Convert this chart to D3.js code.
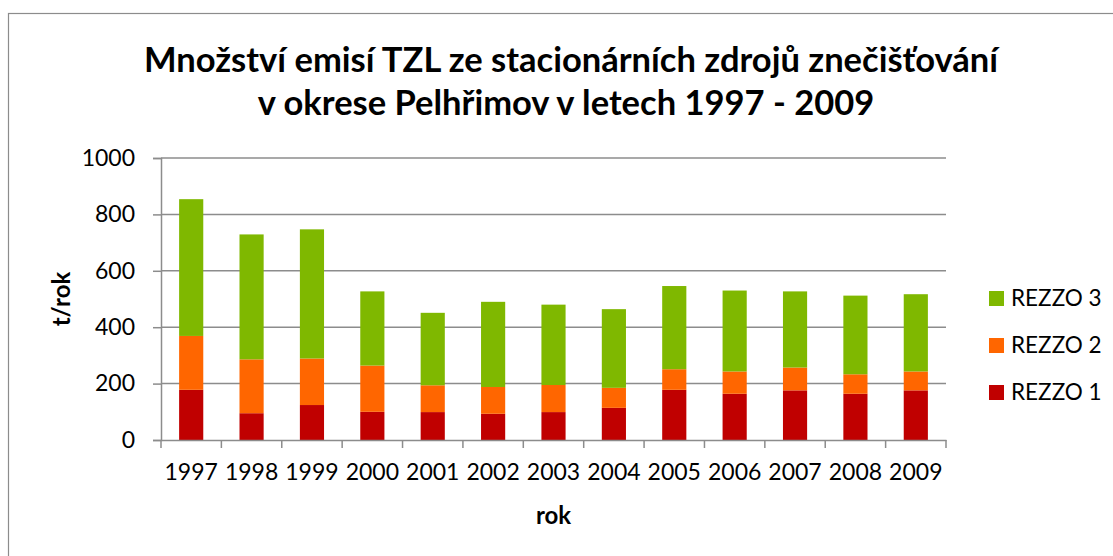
<!DOCTYPE html>
<html>
<head>
<meta charset="utf-8">
<script src="https://cdn.jsdelivr.net/npm/d3@7"></script>
<style>
  body { margin: 0; background: #fff; }
  text { font-family: Lato, "Open Sans", sans-serif; fill: #000; }
</style>
</head>
<body>
<div class="chart"></div>
<script>
// data (t/rok)
var years = ["1997","1998","1999","2000","2001","2002","2003","2004","2005","2006","2007","2008","2009"];
var rezzo1 = [178, 95, 124, 100, 99, 93, 99, 114, 178, 164, 176, 164, 176];
var rezzo2 = [191, 191, 165, 164, 95, 95, 96, 71, 73, 79, 81, 69, 67];
var rezzo3 = [485, 443, 458, 263, 257, 302, 285, 279, 295, 287, 270, 279, 274];
var seriesNames = ["REZZO 1", "REZZO 2", "REZZO 3"];
var seriesColors = ["#C00000", "#FF6600", "#7FB800"];
var yTicks = [0, 200, 400, 600, 800, 1000];

var width = 1113, height = 556;
var plot = {left: 161, right: 946, top: 158, bottom: 440};

var svg = d3.select(".chart").append("svg")
    .attr("width", width)
    .attr("height", height);

//outer chart frame (only top and left edges show in the picture)
svg.append("rect")
    .attr("x", 8.5).attr("y", 13.5)
    .attr("width", 1200).attr("height", 700)
    .attr("fill", "none")
    .attr("stroke", "#8c8c8c")
    .attr("stroke-width", 1.2);

var rows = years.map(function(y, i){
    return {year: y, r1: rezzo1[i], r2: rezzo2[i], r3: rezzo3[i]};
});
var stack = d3.stack().keys(["r1", "r2", "r3"]);
var layers = stack(rows);

var xScale = d3.scaleBand().domain(years).range([plot.left, plot.right]).paddingInner(0.6).paddingOuter(0.3);
var xEdges = d3.scaleBand().domain(years).range([plot.left, plot.right]);
var yScale = d3.scaleLinear().domain([0, 1000]).range([plot.bottom, plot.top]);

// gridlines
svg.append("g")
    .selectAll("line")
    .data(yTicks.filter(function(d){ return d > 0; }))
    .enter().append("line")
    .attr("x1", plot.left).attr("x2", plot.right)
    .attr("y1", function(d){ return yScale(d); })
    .attr("y2", function(d){ return yScale(d); })
    .attr("stroke", "#8c8c8c")
    .attr("stroke-width", 1.5);

// bars
svg.append("g").selectAll("g")
    .data(layers)
    .enter().append("g")
    .attr("fill", function(d, i){ return seriesColors[i]; })
    .selectAll("rect")
    .data(function(d){ return d; })
    .enter().append("rect")
    .attr("x", function(d){ return xScale(d.data.year); })
    .attr("width", xScale.bandwidth())
    .attr("y", function(d){ return yScale(d[1]); })
    .attr("height", function(d){ return yScale(d[0]) - yScale(d[1]); });

// y axis
var yAxis = d3.axisLeft(yScale).tickValues(yTicks).tickFormat(d3.format("d")).tickSize(8).tickPadding(18);
var yg = svg.append("g")
    .attr("transform", "translate(" + plot.left + ",0)")
    .call(yAxis);
yg.selectAll("line, path").attr("stroke", "#8c8c8c").attr("stroke-width", 1.5);
yg.selectAll("text").style("font-size", "23px").attr("fill", "#000");

// x axis: ticks on category boundaries
var xAxis = d3.axisBottom(xScale).tickSize(0).tickPadding(24);
var xg = svg.append("g")
    .attr("transform", "translate(0," + plot.bottom + ")")
    .call(xAxis);
xg.select("path").attr("stroke", "#8c8c8c").attr("stroke-width", 1.5);
xg.selectAll("text").style("font-size", "23px").attr("fill", "#000");
var edges = years.map(function(y){ return xEdges(y); }).concat([plot.right]);
xg.selectAll(".edge")
    .data(edges)
    .enter().append("line")
    .attr("class", "edge")
    .attr("x1", function(d){ return d; }).attr("x2", function(d){ return d; })
    .attr("y1", 0).attr("y2", 8)
    .attr("stroke", "#8c8c8c")
    .attr("stroke-width", 1.5);

// axis titles
svg.append("text")
    .attr("x", (plot.left + plot.right) / 2)
    .attr("y", 524)
    .attr("text-anchor", "middle")
    .style("font-size", "24px")
    .style("font-weight", "bold")
    .text("rok");

svg.append("text")
    .attr("transform", "translate(70," + ((plot.top + plot.bottom) / 2) + ") rotate(-90)")
    .attr("text-anchor", "middle")
    .style("font-size", "24px")
    .style("font-weight", "bold")
    .text("t/rok");

// title
var title = svg.append("text")
    .attr("text-anchor", "middle")
    .style("font-size", "34.5px")
    .style("font-weight", "bold");
title.append("tspan").attr("x", 571).attr("y", 72).text("Množství emisí TZL ze stacionárních zdrojů znečišťování");
title.append("tspan").attr("x", 566).attr("y", 115).text("v okrese Pelhřimov v letech 1997 - 2009");

// legend (top entry is REZZO 3)
var legend = svg.append("g");
var legendItems = legend.selectAll("g")
    .data(seriesNames.map(function(n, i){ return {name: n, color: seriesColors[i]}; }).reverse())
    .enter().append("g")
    .attr("transform", function(d, i){ return "translate(989," + (291 + i * 47) + ")"; });
legendItems.append("rect")
    .attr("width", 15).attr("height", 15)
    .attr("fill", function(d){ return d.color; });
legendItems.append("text")
    .attr("x", 22).attr("y", 15)
    .style("font-size", "22.5px")
    .text(function(d){ return d.name; });
</script>
</body>
</html>
